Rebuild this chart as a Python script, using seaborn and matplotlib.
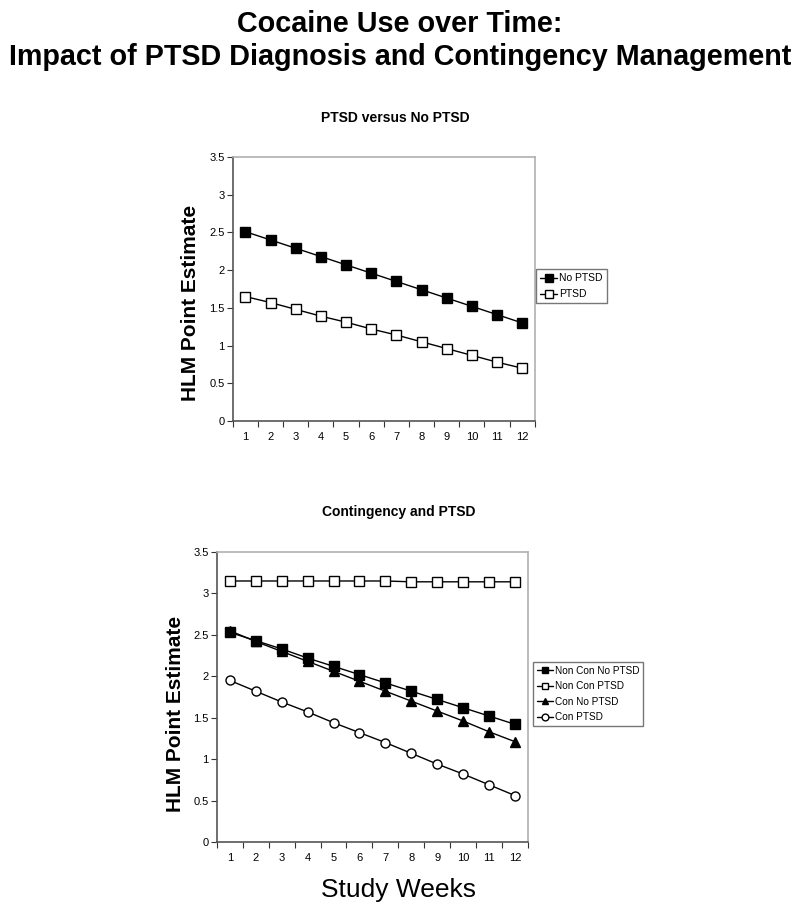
import matplotlib
matplotlib.use("Agg")
import matplotlib.pyplot as plt
from matplotlib.ticker import FixedLocator, NullFormatter
import seaborn as sns
import pandas as pd

sns.set_theme(style="white")
plt.rcParams['font.family'] = ['Liberation Sans', 'DejaVu Sans']
plt.rcParams['text.color'] = 'black'
plt.rcParams['axes.labelcolor'] = 'black'
plt.rcParams['xtick.color'] = 'black'
plt.rcParams['ytick.color'] = 'black'

# ---- data ----
weeks = list(range(1, 13))

top_no_ptsd = [2.51, 2.40, 2.29, 2.18, 2.07, 1.96, 1.85, 1.74, 1.63, 1.52, 1.41, 1.30]
top_ptsd = [1.65, 1.57, 1.48, 1.39, 1.31, 1.22, 1.14, 1.05, 0.96, 0.87, 0.78, 0.70]

bot_noncon_no_ptsd = [2.53, 2.43, 2.33, 2.22, 2.12, 2.02, 1.92, 1.82, 1.72, 1.62, 1.52, 1.42]
bot_noncon_ptsd = [3.15, 3.15, 3.15, 3.15, 3.15, 3.15, 3.15, 3.14, 3.14, 3.14, 3.14, 3.14]
bot_con_no_ptsd = [2.55, 2.42, 2.30, 2.18, 2.06, 1.94, 1.82, 1.70, 1.58, 1.46, 1.33, 1.21]
bot_con_ptsd = [1.95, 1.82, 1.69, 1.57, 1.44, 1.32, 1.20, 1.07, 0.94, 0.82, 0.69, 0.56]

top_labels = ["No PTSD", "PTSD"]
bot_labels = ["Non Con No PTSD", "Non Con PTSD", "Con No PTSD", "Con PTSD"]
y_ticks = [0, 0.5, 1, 1.5, 2, 2.5, 3, 3.5]

main_title = "Cocaine Use over Time:\nImpact of PTSD Diagnosis and Contingency Management"
top_title = "PTSD versus No PTSD"
bot_title = "Contingency and PTSD"
ylabel = "HLM Point Estimate"
xlabel = "Study Weeks"

fig = plt.figure(figsize=(8, 9.16), dpi=100)
ax1 = fig.add_axes([0.291, 0.5404, 0.3775, 0.2882])
ax2 = fig.add_axes([0.271, 0.0808, 0.389, 0.3166])


def style_axes(ax, label_xy):
    ax.set_xlim(0.5, 12.5)
    ax.set_ylim(0, 3.5)
    ax.set_facecolor("white")
    ax.yaxis.set_major_locator(FixedLocator(y_ticks))
    ax.set_yticklabels([f"{v:g}" for v in y_ticks])
    ax.xaxis.set_major_locator(FixedLocator(weeks))
    ax.set_xticklabels([str(w) for w in weeks])
    ax.xaxis.set_minor_locator(FixedLocator([w + 0.5 for w in [0] + weeks]))
    ax.xaxis.set_minor_formatter(NullFormatter())
    ax.tick_params(axis="x", which="major", length=0, pad=8, labelsize=8, colors="black")
    ax.tick_params(axis="x", which="minor", length=4, width=0.8, direction="out", color="#333333", bottom=True)
    ax.tick_params(axis="y", which="major", length=4, width=0.8, direction="out", left=True,
                   labelsize=8, color="#333333", labelcolor="black", pad=2)
    for s in ["left", "bottom"]:
        ax.spines[s].set_color("#555555")
        ax.spines[s].set_linewidth(1.2)
    for s in ["top", "right"]:
        ax.spines[s].set_color("#b0b0b0")
        ax.spines[s].set_linewidth(1.2)
    ax.grid(False)
    ax.set_xlabel("")
    ax.set_ylabel(ylabel, fontsize=15, fontweight="bold", color="black")
    ax.yaxis.set_label_coords(*label_xy)


# ---- top chart ----
top_series = [top_no_ptsd, top_ptsd]
top_fc = ["black", "white"]
for vals, lab, fc in zip(top_series, top_labels, top_fc):
    df = pd.DataFrame({"week": weeks, "value": vals})
    sns.lineplot(data=df, x="week", y="value", ax=ax1, color="black", linewidth=1.0,
                 marker="s", markersize=7.5, markerfacecolor=fc, markeredgecolor="black",
                 markeredgewidth=1.0, label=lab)
style_axes(ax1, (-0.109, 0.447))
h, l = ax1.get_legend_handles_labels()
ax1.legend(h, l, loc="center left", bbox_to_anchor=(1.005, 0.51), frameon=True, fancybox=False,
           edgecolor="#555555", fontsize=7.5, handlelength=1.6, handletextpad=0.2,
           borderpad=0.4, labelspacing=0.55, markerscale=0.7, borderaxespad=0.0)

# ---- bottom chart ----
bot_series = [bot_noncon_no_ptsd, bot_noncon_ptsd, bot_con_no_ptsd, bot_con_ptsd]
bot_markers = ["s", "s", "^", "o"]
bot_fc = ["black", "white", "black", "white"]
for vals, lab, mk, fc in zip(bot_series, bot_labels, bot_markers, bot_fc):
    df = pd.DataFrame({"week": weeks, "value": vals})
    sns.lineplot(data=df, x="week", y="value", ax=ax2, color="black", linewidth=1.0,
                 marker=mk, markersize=6.5, markerfacecolor=fc, markeredgecolor="black",
                 markeredgewidth=1.0, label=lab)
style_axes(ax2, (-0.103, 0.441))
h, l = ax2.get_legend_handles_labels()
ax2.legend(h, l, loc="center left", bbox_to_anchor=(1.016, 0.51), frameon=True, fancybox=False,
           edgecolor="#555555", fontsize=7.2, handlelength=1.6, handletextpad=0.2,
           borderpad=0.4, labelspacing=0.55, markerscale=0.75, borderaxespad=0.0)

fig.text(0.5, 0.989, main_title, ha="center", va="top", fontsize=20.7, fontweight="bold",
         linespacing=1.22)
fig.text(0.494, 1 - 118 / 916, top_title, ha="center", va="center", fontsize=10, fontweight="bold")
fig.text(0.499, 1 - 512 / 916, bot_title, ha="center", va="center", fontsize=10, fontweight="bold")
fig.text(0.498, 1 - 890 / 916, xlabel, ha="center", va="center", fontsize=19)

fig.savefig("out.png", dpi=100)
